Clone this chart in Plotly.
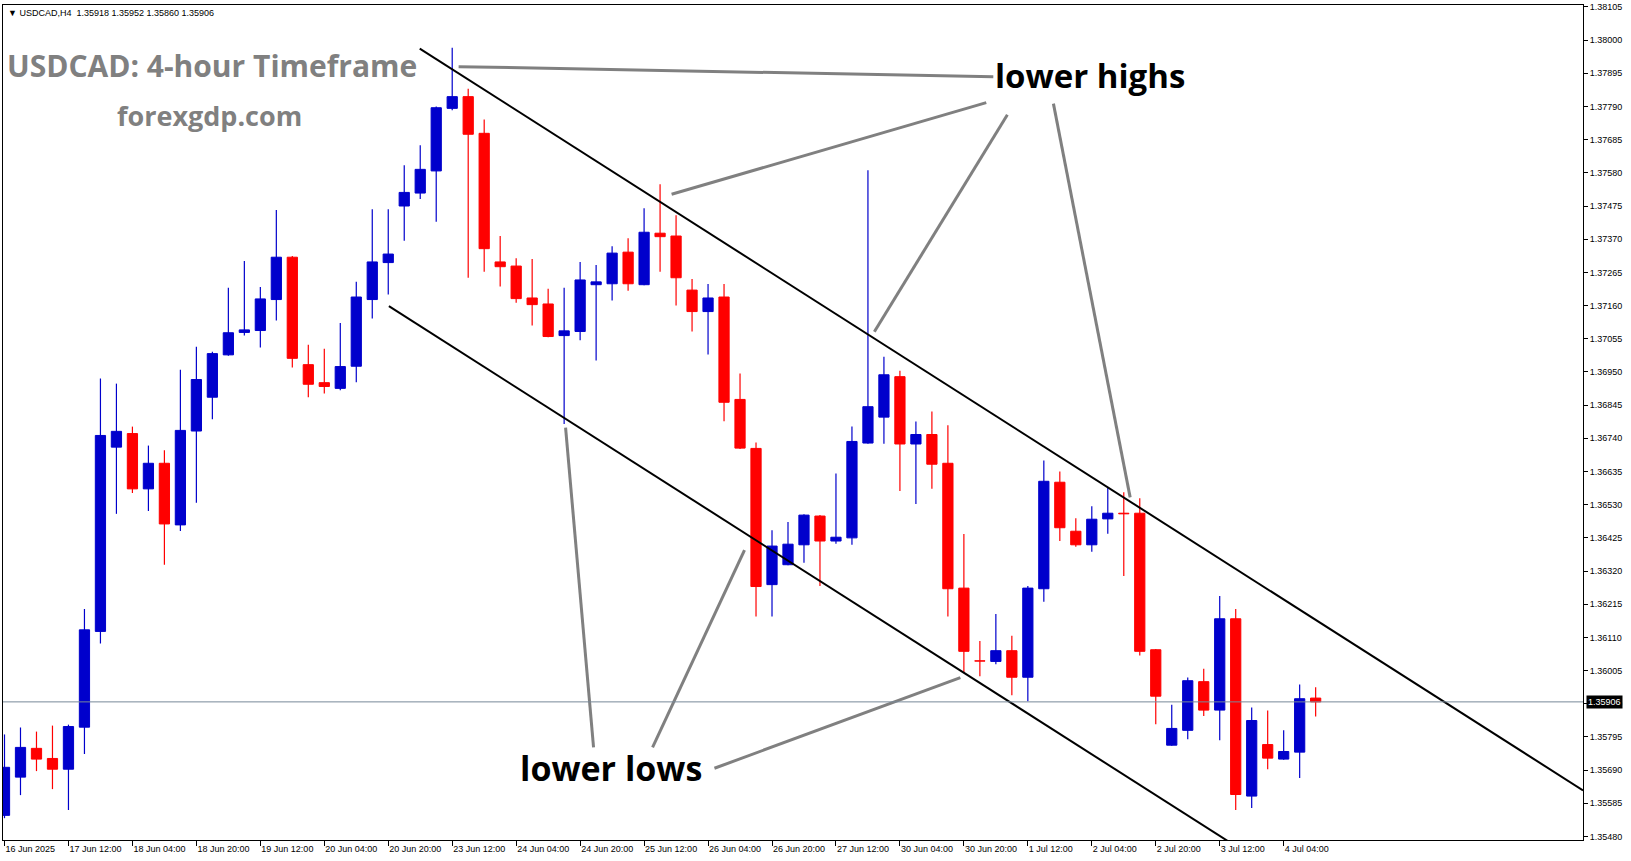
import plotly.graph_objects as go

# ---------------- data (USDCAD H4, one entry per candle) ----------------
open_ = [1.35547, 1.35668, 1.35759, 1.35727, 1.35693, 1.35826, 1.36129, 1.36712, 1.36755, 1.36580,
         1.36661, 1.36466, 1.36763, 1.36870, 1.37004, 1.37075, 1.37081, 1.37179, 1.37313, 1.36973,
         1.36916, 1.36898, 1.36968, 1.37179, 1.37296, 1.37475, 1.37516, 1.37586, 1.37784, 1.37821,
         1.37705, 1.37298, 1.37285, 1.37184, 1.37165, 1.37065, 1.37078, 1.37226, 1.37229, 1.37329,
         1.37226, 1.37389, 1.37380, 1.37209, 1.37141, 1.37187, 1.36863, 1.36708, 1.36277, 1.36340,
         1.36403, 1.36494, 1.36415, 1.36425, 1.36725, 1.36807, 1.36935, 1.36722, 1.36752, 1.36661,
         1.36266, 1.36036, 1.36034, 1.36068, 1.35984, 1.36264, 1.36601, 1.36446, 1.36403, 1.36485,
         1.36503, 1.36503, 1.36071, 1.35769, 1.35816, 1.35970, 1.35880, 1.36169, 1.35608, 1.35771,
         1.35725, 1.35747, 1.35918]
high = [1.35803, 1.35825, 1.35812, 1.35831, 1.35834, 1.36200, 1.36929, 1.36913, 1.36777, 1.36717,
        1.36702, 1.36957, 1.37030, 1.37014, 1.37216, 1.37301, 1.37219, 1.37462, 1.37317, 1.37036,
        1.37023, 1.37105, 1.37235, 1.37465, 1.37465, 1.37604, 1.37667, 1.37790, 1.37976, 1.37846,
        1.37749, 1.37380, 1.37310, 1.37307, 1.37213, 1.37216, 1.37298, 1.37288, 1.37348, 1.37373,
        1.37468, 1.37544, 1.37446, 1.37244, 1.37228, 1.37228, 1.36945, 1.36727, 1.36449, 1.36475,
        1.36500, 1.36497, 1.36629, 1.36777, 1.37588, 1.36998, 1.36954, 1.36793, 1.36825, 1.36781,
        1.36437, 1.36099, 1.36184, 1.36115, 1.36273, 1.36670, 1.36635, 1.36487, 1.36525, 1.36585,
        1.36569, 1.36550, 1.36073, 1.35897, 1.35983, 1.36011, 1.36241, 1.36200, 1.35888, 1.35879,
        1.35816, 1.35961, 1.35952]
low = [1.35538, 1.35611, 1.35687, 1.35630, 1.35564, 1.35741, 1.36091, 1.36501, 1.36567, 1.36510,
       1.36340, 1.36447, 1.36536, 1.36800, 1.37001, 1.37065, 1.37027, 1.37113, 1.36964, 1.36870,
       1.36882, 1.36892, 1.36917, 1.37119, 1.37195, 1.37365, 1.37497, 1.37425, 1.37778, 1.37248,
       1.37267, 1.37220, 1.37169, 1.37097, 1.37060, 1.36785, 1.37050, 1.36986, 1.37176, 1.37207,
       1.37224, 1.37267, 1.37160, 1.37078, 1.37005, 1.36794, 1.36706, 1.36176, 1.36176, 1.36338,
       1.36346, 1.36273, 1.36406, 1.36403, 1.36723, 1.36723, 1.36573, 1.36532, 1.36580, 1.36176,
       1.35999, 1.35987, 1.36025, 1.35927, 1.35908, 1.36223, 1.36415, 1.36397, 1.36381, 1.36438,
       1.36304, 1.36053, 1.35835, 1.35767, 1.35788, 1.35861, 1.35785, 1.35564, 1.35570, 1.35693,
       1.35723, 1.35665, 1.35860]
close = [1.35699, 1.35762, 1.35725, 1.35693, 1.35828, 1.36134, 1.36749, 1.36762, 1.36580, 1.36661,
         1.36469, 1.36765, 1.36926, 1.37008, 1.37074, 1.37083, 1.37181, 1.37313, 1.36993, 1.36911,
         1.36904, 1.36967, 1.37187, 1.37298, 1.37323, 1.37518, 1.37591, 1.37786, 1.37821, 1.37702,
         1.37340, 1.37283, 1.37182, 1.37163, 1.37062, 1.37080, 1.37241, 1.37235, 1.37326, 1.37229,
         1.37392, 1.37378, 1.37248, 1.37141, 1.37184, 1.36854, 1.36709, 1.36271, 1.36399, 1.36405,
         1.36497, 1.36415, 1.36427, 1.36730, 1.36840, 1.36941, 1.36722, 1.36752, 1.36658, 1.36264,
         1.36066, 1.36035, 1.36068, 1.35984, 1.36266, 1.36604, 1.36457, 1.36403, 1.36484, 1.36503,
         1.36501, 1.36066, 1.35924, 1.35822, 1.35973, 1.35880, 1.36169, 1.35613, 1.35847, 1.35728,
         1.35749, 1.35916, 1.35906]

# time-axis labels (every 4th candle)
tick_bars = list(range(0, 84, 4))
tick_labels = ["16 Jun 2025", "17 Jun 12:00", "18 Jun 04:00", "18 Jun 20:00", "19 Jun 12:00",
               "20 Jun 04:00", "20 Jun 20:00", "23 Jun 12:00", "24 Jun 04:00", "24 Jun 20:00",
               "25 Jun 12:00", "26 Jun 04:00", "26 Jun 20:00", "27 Jun 12:00", "30 Jun 04:00",
               "30 Jun 20:00", "1 Jul 12:00", "2 Jul 04:00", "2 Jul 20:00", "3 Jul 12:00",
               "4 Jul 04:00"]

# price-axis ticks
price_ticks = [round(1.35480 + 0.00105 * k, 5) for k in range(26)]
last_price = 1.35906

# channel trendlines (bar index, price)
upper_channel_x = [25.97, 98.72]
upper_channel_y = [1.37973, 1.35626]
lower_channel_x = [24.04, 80.0]
lower_channel_y = [1.37158, 1.35353]

# annotation pointer lines (bar index, price)
highs_pointers = [([28.4, 61.84], [1.37916, 1.37884]),
                  ([41.72, 61.4], [1.37512, 1.37802]),
                  ([54.4, 62.72], [1.37077, 1.37764]),
                  ([65.6, 70.4], [1.37799, 1.36553])]
lows_pointers = [([35.09, 36.84], [1.36774, 1.35762]),
                 ([46.28, 40.53], [1.36386, 1.35762]),
                 ([59.78, 44.4], [1.35983, 1.35696])]

# ---------------- figure ----------------
UP = "#0000CC"
DOWN = "#FF0000"
n = len(close)
xs = list(range(n))
colors = [UP if close[i] >= open_[i] else DOWN for i in range(n)]

fig = go.Figure()

# wicks
for col in (UP, DOWN):
    wx, wy = [], []
    for i in range(n):
        if colors[i] == col:
            wx += [i, i, None]
            wy += [low[i], high[i], None]
    fig.add_trace(go.Scatter(x=wx, y=wy, mode="lines", line=dict(color=col, width=1.2),
                             hoverinfo="skip", showlegend=False))

# bodies
fig.add_trace(go.Bar(x=xs, base=[min(o, c) for o, c in zip(open_, close)],
                     y=[abs(c - o) for o, c in zip(open_, close)],
                     width=0.64, marker=dict(color=colors, line=dict(color=colors, width=1)),
                     showlegend=False, hoverinfo="skip"))

# channel lines
for cx, cy in ((upper_channel_x, upper_channel_y), (lower_channel_x, lower_channel_y)):
    fig.add_trace(go.Scatter(x=cx, y=cy, mode="lines", line=dict(color="black", width=2),
                             hoverinfo="skip", showlegend=False))

# pointer lines
for px, py in highs_pointers + lows_pointers:
    fig.add_trace(go.Scatter(x=px, y=py, mode="lines", line=dict(color="#808080", width=3),
                             hoverinfo="skip", showlegend=False))

# current price line
fig.add_shape(type="line", xref="paper", x0=0, x1=1, yref="y", y0=last_price, y1=last_price,
              line=dict(color="#778899", width=1))

annotations = [
    dict(x=0.0019, y=0.9905, xref="paper", yref="paper", xanchor="left", yanchor="middle",
         text="▼ USDCAD,H4  1.35918 1.35952 1.35860 1.35906", showarrow=False,
         font=dict(family="Liberation Sans", size=9, color="black")),
    dict(x=0.0015, y=0.9272, xref="paper", yref="paper", xanchor="left", yanchor="middle",
         text="<b>USDCAD: 4-hour Timeframe</b>", showarrow=False,
         font=dict(family="Open Sans", size=30, color="#808080")),
    dict(x=0.1305, y=0.8678, xref="paper", yref="paper", xanchor="center", yanchor="middle",
         text="<b>forexgdp.com</b>", showarrow=False,
         font=dict(family="Open Sans", size=27, color="#808080")),
    dict(x=67.9, y=1.37888, xref="x", yref="y", xanchor="center", yanchor="middle",
         text="<b>lower highs</b>", showarrow=False,
         font=dict(family="Open Sans", size=33, color="black")),
    dict(x=37.9, y=1.35698, xref="x", yref="y", xanchor="center", yanchor="middle",
         text="<b>lower lows</b>", showarrow=False,
         font=dict(family="Open Sans", size=34, color="black")),
    dict(x=1.0, y=last_price, xref="paper", yref="y", xanchor="left", yanchor="middle",
         xshift=3, text="%.5f" % last_price, showarrow=False, bgcolor="black", borderpad=1,
         font=dict(family="Liberation Sans", size=9, color="white")),
]

fig.update_layout(
    width=1631, height=861, autosize=False,
    margin=dict(l=2, r=48, t=2, b=21),
    paper_bgcolor="white", plot_bgcolor="white",
    barmode="overlay", showlegend=False,
    annotations=annotations,
    xaxis=dict(range=[-0.094, 98.72], tickmode="array", tickvals=tick_bars, ticktext=tick_labels,
               showgrid=False, zeroline=False, showline=True, linecolor="black", linewidth=1,
               mirror=True, ticks="outside", ticklen=5, tickcolor="black",
               ticklabelposition="outside right", ticklabeloverflow="allow",
               tickfont=dict(family="Liberation Sans", size=9, color="black")),
    yaxis=dict(range=[1.35469, 1.38111], side="right", tickmode="array", tickvals=price_ticks,
               ticktext=["%.5f" % v for v in price_ticks],
               showgrid=False, zeroline=False, showline=True, linecolor="black", linewidth=1,
               mirror=True, ticks="outside", ticklen=4, tickcolor="black",
               ticklabeloverflow="allow",
               tickfont=dict(family="Liberation Sans", size=9, color="black")),
)

fig.write_html("out.html", config={"displayModeBar": False},
               post_script="document.body.style.margin='0';")
